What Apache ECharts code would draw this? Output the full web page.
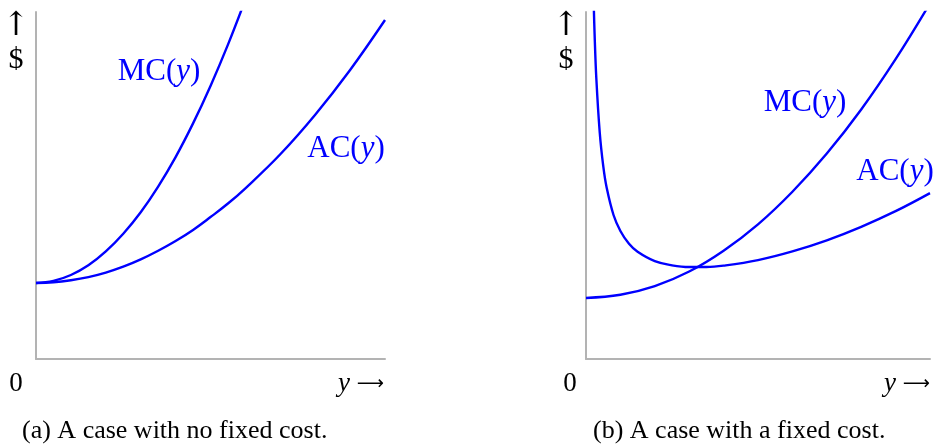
<!DOCTYPE html>
<html><head><meta charset="utf-8">
<script src="https://cdn.jsdelivr.net/npm/echarts@6/dist/echarts.min.js"></script>
<style>html,body{margin:0;padding:0;background:#fff}#c{width:936px;height:445px}</style>
</head><body><div id="c"></div>
<script>
// Panel (a): no fixed cost
const xA = [0, 0.5, 1, 1.5, 2, 2.5, 3, 3.5, 4, 4.5, 5, 5.5, 6, 7, 8, 9, 10];
const acA = [2.19, 2.21, 2.27, 2.36, 2.49, 2.66, 2.87, 3.12, 3.40, 3.72, 4.09, 4.48, 4.92, 5.90, 7.04, 8.33, 9.77];
const mcA = [2.19, 2.25, 2.42, 2.70, 3.10, 3.61, 4.23, 4.97, 5.82, 6.79, 7.87, 9.06, 10.36];
// Panel (b): with fixed cost
const xB_ac = [0.22, 0.25, 0.3, 0.4, 0.5, 0.6, 0.8, 1.0, 1.25, 1.5, 2, 2.5, 3, 3.5, 4, 5, 6, 7, 8, 9, 10];
const acB = [10.4, 9.36, 8.09, 6.52, 5.57, 4.94, 4.15, 3.69, 3.32, 3.09, 2.82, 2.70, 2.65, 2.65, 2.69, 2.85, 3.10, 3.42, 3.81, 4.26, 4.78];
const xB_mc = [0, 1, 2, 3, 4, 5, 6, 7, 8, 9, 10];
const mcB = [1.76, 1.85, 2.10, 2.52, 3.12, 3.88, 4.82, 5.92, 7.19, 8.64, 10.25];

const zip = (xs, ys) => ys.map((v, i) => [xs[i], v]);
const FF = 'Liberation Serif';
const BLUE = '#0000ff';
const AX = '#b3b3b3';

function axisPair(i) {
  return {
    x: {gridIndex: i, type: 'value', min: 0, max: 10,
        axisLine: {show: true, onZero: false, lineStyle: {color: AX, width: 2}},
        axisTick: {show: false}, axisLabel: {show: false}, splitLine: {show: false}},
    y: {gridIndex: i, type: 'value', min: 0, max: 10,
        axisLine: {show: true, onZero: false, lineStyle: {color: AX, width: 2}},
        axisTick: {show: false}, axisLabel: {show: false}, splitLine: {show: false}}
  };
}
const a0 = axisPair(0), a1 = axisPair(1);

function txt(x, y, text, align, color, size, rich, family) {
  return {type: 'text', x: x, y: y, silent: true,
    style: {text: text, fill: color, fontFamily: family || FF, fontSize: size,
      align: align, verticalAlign: 'middle', textAlign: align, textVerticalAlign: 'middle',
      rich: rich || {}}};
}
const richBlue = {i: {fontStyle: 'italic', fontFamily: FF, fontSize: 31, fill: BLUE, color: BLUE}};
const richAxis = {
  i: {fontStyle: 'italic', fontFamily: FF, fontSize: 27, fill: '#000', color: '#000'},
  a: {fontFamily: 'DejaVu Sans', fontSize: 19, fill: '#000', color: '#000'}
};

const chart = echarts.init(document.getElementById('c'), null, {renderer: 'canvas'});
chart.setOption({
  animation: false,
  backgroundColor: '#fff',
  grid: [
    {left: 36, top: 12, width: 349, height: 347},
    {left: 586, top: 12, width: 344, height: 347}
  ],
  xAxis: [a0.x, a1.x],
  yAxis: [a0.y, a1.y],
  series: [
    {type: 'line', xAxisIndex: 0, yAxisIndex: 0, data: zip(xA, acA), smooth: 0.4, symbol: 'none', clip: true, lineStyle: {color: BLUE, width: 2.4}},
    {type: 'line', xAxisIndex: 0, yAxisIndex: 0, data: zip(xA, mcA), smooth: 0.4, symbol: 'none', clip: true, lineStyle: {color: BLUE, width: 2.4}},
    {type: 'line', xAxisIndex: 1, yAxisIndex: 1, data: zip(xB_ac, acB), smooth: 0.4, symbol: 'none', clip: true, lineStyle: {color: BLUE, width: 2.4}},
    {type: 'line', xAxisIndex: 1, yAxisIndex: 1, data: zip(xB_mc, mcB), smooth: 0.4, symbol: 'none', clip: true, lineStyle: {color: BLUE, width: 2.4}}
  ],
  graphic: [
    txt(16, 26, '↑', 'center', '#000', 33, null, 'DejaVu Serif'),
    txt(16, 60, '$', 'center', '#000', 30),
    txt(566, 26, '↑', 'center', '#000', 33, null, 'DejaVu Serif'),
    txt(566, 60, '$', 'center', '#000', 30),
    txt(16, 384, '0', 'center', '#000', 27),
    txt(570, 384, '0', 'center', '#000', 27),
    txt(384, 384, '{i|y} {a|⟶}', 'right', '#000', 27, richAxis),
    txt(930, 384, '{i|y} {a|⟶}', 'right', '#000', 27, richAxis),
    txt(159, 72, 'MC({i|y})', 'center', BLUE, 31, richBlue),
    txt(346, 149, 'AC({i|y})', 'center', BLUE, 31, richBlue),
    txt(805, 103, 'MC({i|y})', 'center', BLUE, 31, richBlue),
    txt(895, 172, 'AC({i|y})', 'center', BLUE, 31, richBlue),
    txt(22, 431, '(a) A case with no fixed cost.', 'left', '#000', 26),
    txt(593, 431, '(b) A case with a fixed cost.', 'left', '#000', 26)
  ]
});
</script></body></html>
